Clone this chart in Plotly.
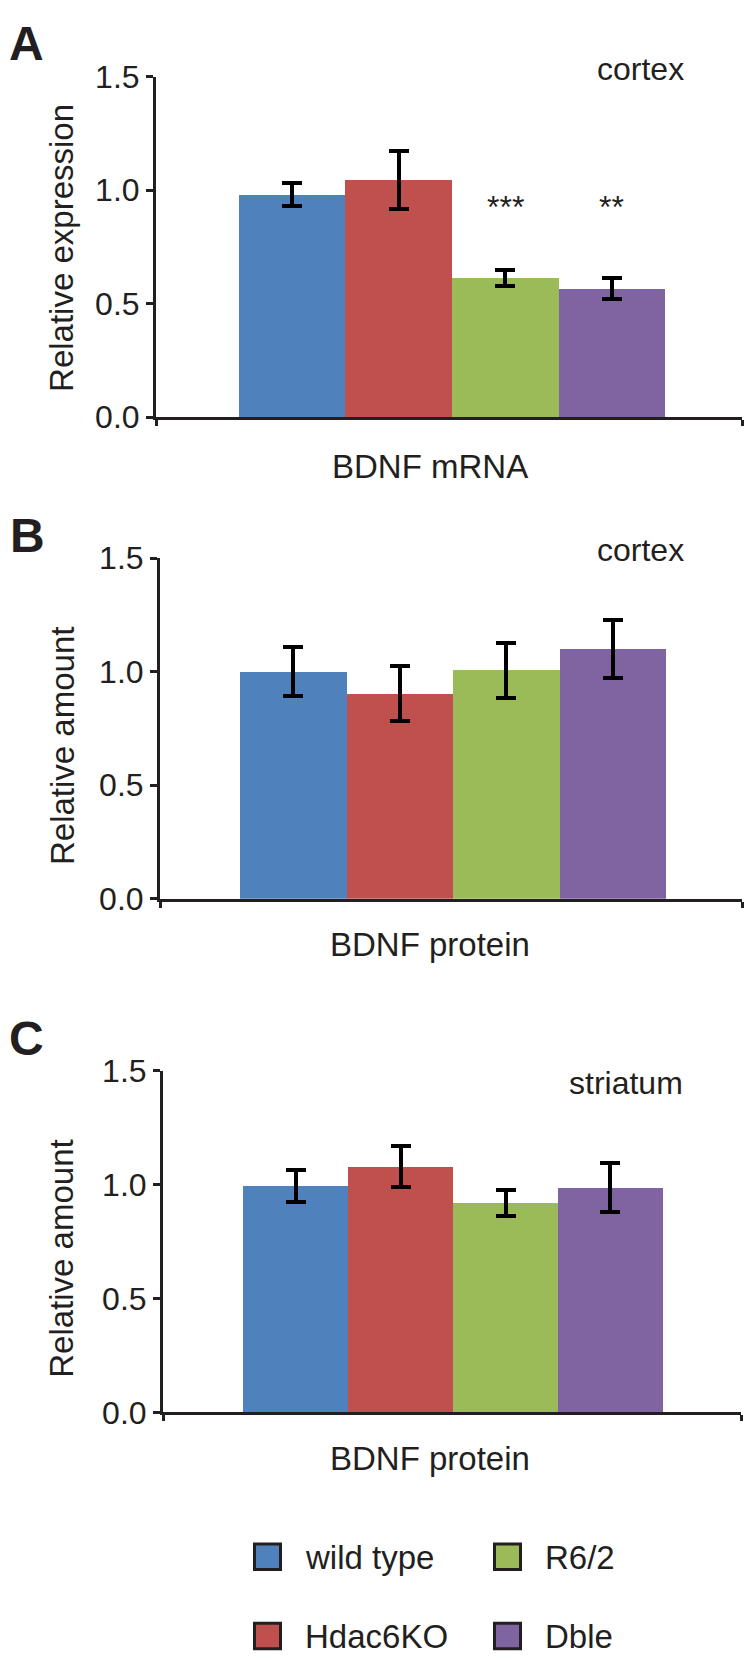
import plotly.graph_objects as go

# ---------------- data ----------------
groups = ["wild type", "Hdac6KO", "R6/2", "Dble"]
colors = ["#4F81BD", "#C0504D", "#9BBB59", "#8064A2"]

mrna_cortex = [0.981, 1.046, 0.613, 0.568]
mrna_cortex_err = [0.049, 0.128, 0.034, 0.046]
mrna_stars = ["", "", "***", "**"]

protein_cortex = [1.000, 0.903, 1.007, 1.099]
protein_cortex_err = [0.108, 0.120, 0.121, 0.127]

protein_striatum = [0.994, 1.079, 0.920, 0.987]
protein_striatum_err = [0.072, 0.090, 0.056, 0.107]

ytick_vals = [0.0, 0.5, 1.0, 1.5]
ytick_text = ["0.0", "0.5", "1.0", "1.5"]

panel_letters = ["A", "B", "C"]
region_labels = ["cortex", "cortex", "striatum"]
x_titles = ["BDNF mRNA", "BDNF protein", "BDNF protein"]
y_titles = ["Relative expression", "Relative amount", "Relative amount"]

# ---------------- layout helpers ----------------
W, H = 752, 1677
FONT = "Liberation Sans, Arial, Helvetica, sans-serif"
INK = "#231F20"


def px(x):
    return x / W


def py(y):
    return 1 - y / H


# panel geometry (pixels): y-axis x, x-axis end, y of 0.0, y of 1.5, x-range
panels = [
    dict(x0=156, x1=742, y0=408, y15=60, xr=[-1.275, 4.22]),
    dict(x0=160, x1=742, y0=900, y15=552, xr=[-1.25, 4.21]),
    dict(x0=163, x1=741, y0=1425, y15=1076, xr=[-1.262, 4.243]),
]

datasets = [
    (mrna_cortex, mrna_cortex_err),
    (protein_cortex, protein_cortex_err),
    (protein_striatum, protein_striatum_err),
]

fig = go.Figure()
xpos = list(range(len(groups)))

for p, (vals, errs) in enumerate(datasets):
    ax = "" if p == 0 else str(p + 1)
    for i, g in enumerate(groups):
        fig.add_trace(
            go.Bar(
                x=[xpos[i]],
                y=[vals[i]],
                width=1.0,
                name=g,
                marker=dict(color=colors[i], line=dict(width=0)),
                error_y=dict(
                    type="data",
                    array=[errs[i]],
                    visible=True,
                    color="black",
                    thickness=4,
                    width=10,
                ),
                showlegend=False,
                xaxis="x" + ax,
                yaxis="y" + ax,
            )
        )

annotations = []
for p, g in enumerate(panels):
    ax = "" if p == 0 else str(p + 1)
    xa = dict(
        domain=[px(g["x0"]), px(g["x1"])],
        range=g["xr"],
        anchor="y" + ax,
        showgrid=False,
        zeroline=False,
        showline=True,
        linecolor=INK,
        linewidth=3,
        ticks="outside",
        tickmode="array",
        tickvals=g["xr"],
        ticklen=6,
        tickwidth=3,
        tickcolor=INK,
        showticklabels=False,
        fixedrange=True,
    )
    ya = dict(
        domain=[py(g["y0"]), py(g["y15"])],
        range=[0, 1.5],
        anchor="x" + ax,
        showgrid=False,
        zeroline=False,
        showline=True,
        linecolor=INK,
        linewidth=3,
        ticks="outside",
        tickmode="array",
        tickvals=ytick_vals,
        ticktext=ytick_text,
        ticklen=7,
        tickwidth=3,
        tickcolor=INK,
        tickfont=dict(family=FONT, size=32, color=INK),
        fixedrange=True,
    )
    fig.update_layout({"xaxis" + ax: xa, "yaxis" + ax: ya})

# panel letters
for (lx, ly), t in zip([(26, 26), (27, 529), (26, 1043)], panel_letters):
    annotations.append(dict(x=px(lx), y=py(ly), xref="paper", yref="paper", text="<b>%s</b>" % t,
                            showarrow=False, xanchor="center", yanchor="middle",
                            font=dict(family=FONT, size=48, color=INK)))

# region labels
for (lx, ly), t in zip([(640, 52), (640, 544), (626, 1088)], region_labels):
    annotations.append(dict(x=px(lx), y=py(ly), xref="paper", yref="paper", text=t,
                            showarrow=False, xanchor="center", yanchor="middle",
                            font=dict(family=FONT, size=32, color=INK)))

# x titles
for (lx, ly), t in zip([(430, 458), (430, 947), (430, 1472)], x_titles):
    annotations.append(dict(x=px(lx), y=py(ly), xref="paper", yref="paper", text=t,
                            showarrow=False, xanchor="center", yanchor="middle",
                            font=dict(family=FONT, size=33, color=INK)))

# y titles
for (lx, ly), t in zip([(62, 235), (62, 744), (62, 1268)], y_titles):
    annotations.append(dict(x=px(lx), y=py(ly), xref="paper", yref="paper", text=t,
                            textangle=-90, showarrow=False, xanchor="center", yanchor="middle",
                            font=dict(family=FONT, size=33, color=INK)))

# significance stars (panel A)
for i, s in enumerate(mrna_stars):
    if s:
        annotations.append(dict(x=xpos[i], y=0.84, xref="x", yref="y", text=s,
                                showarrow=False, xanchor="center", yanchor="bottom",
                                font=dict(family=FONT, size=32, color=INK)))

# legend (2 x 2)
shapes = []
leg_pos = {0: (253, 1558), 2: (493, 1558), 1: (253, 1639), 3: (493, 1639)}
for i, g in enumerate(groups):
    sx, sy = leg_pos[i]
    shapes.append(dict(type="rect", xref="paper", yref="paper",
                       x0=px(sx + 1.5), x1=px(sx + 27.5), y0=py(sy + 27.5), y1=py(sy + 1.5),
                       fillcolor=colors[i], line=dict(color=INK, width=3)))
    annotations.append(dict(x=px(sx + 50), y=py(sy + 15), xref="paper", yref="paper", text=g,
                            showarrow=False, xanchor="left", yanchor="middle",
                            font=dict(family=FONT, size=33, color=INK)))

fig.update_layout(
    width=W,
    height=H,
    margin=dict(l=0, r=0, t=0, b=0),
    paper_bgcolor="white",
    plot_bgcolor="white",
    bargap=0,
    showlegend=False,
    annotations=annotations,
    shapes=shapes,
)

fig.write_html(
    "out.html",
    config={"displayModeBar": False},
    post_script="document.body.style.margin='0';document.body.style.padding='0';",
)
